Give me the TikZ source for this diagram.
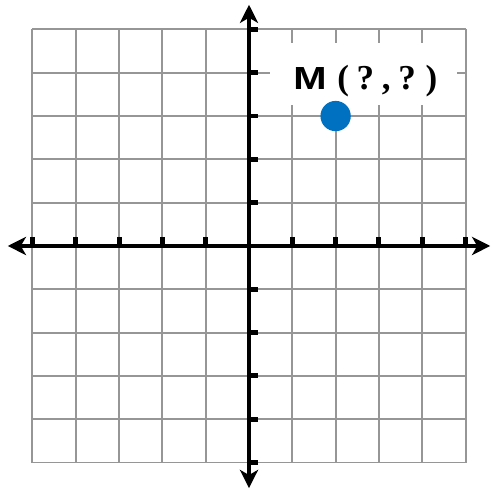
\documentclass[tikz,border=0pt]{standalone}
\usepackage{fontspec}
\usepackage{xcolor}
\usetikzlibrary{arrows.meta,positioning}
\newfontfamily\labelsans{Liberation Sans Bold}
\newfontfamily\labelserif{Liberation Serif Bold}
\definecolor{gridgray}{RGB}{150,150,150}
\definecolor{pointblue}{RGB}{0,112,192}
\newcommand{\gap}[1]{\hspace{#1em}}

\begin{document}
\begin{tikzpicture}[
    gridline/.style={gridgray, line width=1.3pt},
    axis/.style={{Stealth[length=4.2mm,width=4.2mm,inset=1.2mm]}-{Stealth[length=4.2mm,width=4.2mm,inset=1.2mm]}, line width=3.2pt},
    tick/.style={line width=3.2pt}
]
\useasboundingbox (-5.75,-5.658) rectangle (5.566,5.68);
\draw[gridline] (-5,-5) grid (5,5);
% label box
\node[fill=white, minimum width=4.32cm, minimum height=1.43cm, inner sep=0pt] (lbl) at (2.64,3.97) {};
\node[anchor=base west, inner sep=0pt] (lbltext) at (1.02,3.62)
    {{\labelsans\fontsize{21}{21}\selectfont\scalebox{1.25}[1]{M}}%
     {\labelserif\fontsize{23}{23}\selectfont\gap{0.3}(\gap{0.22}?\gap{0.22},\gap{0.22}?\gap{0.28})}};
% axes
\coordinate (xl) at (-5.57,0);
\coordinate (xr) at (5.57,0);
\coordinate (yb) at (0,-5.59);
\coordinate (yt) at (0,5.57);
\draw[axis] (xl) -- (xr);
\draw[axis] (yb) -- (yt);
\foreach \x in {-5,-4,-3,-2,-1,1,2,3,4,5} {
    \draw[tick] (\x,0) -- (\x,0.2);
}
\foreach \y in {-5,-4,-3,-2,-1,1,2,3,4,5} {
    \draw[tick] (0,\y) -- (0.2,\y);
}
% point M
\node[circle, fill=pointblue, minimum size=0.7cm, inner sep=0pt] (M) at (2,3) {};
\end{tikzpicture}
\end{document}
